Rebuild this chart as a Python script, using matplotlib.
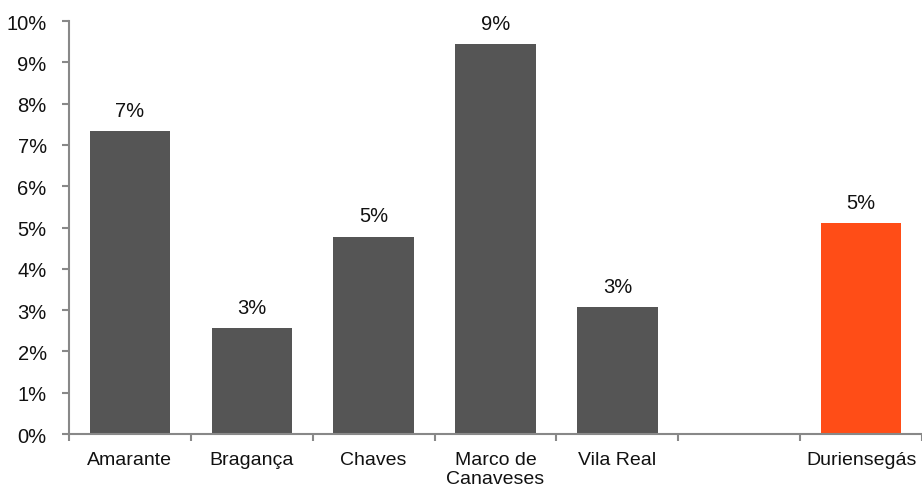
import matplotlib.pyplot as plt
from matplotlib.ticker import FuncFormatter

plt.rcParams["font.family"] = ["Liberation Sans", "DejaVu Sans"]

# Data
categories = ["Amarante", "Bragança", "Chaves", "Marco de\nCanaveses", "Vila Real", "", "Duriensegás"]
values = [7.33, 2.57, 4.78, 9.44, 3.08, None, 5.10]
colors = ["#555555", "#555555", "#555555", "#555555", "#555555", "#555555", "#FF4D17"]
y_ticks = list(range(0, 11))

fig = plt.figure(figsize=(9.22, 4.89), dpi=100)
ax = fig.add_axes([0.0748, 0.1104, 0.9252, 0.8446])

xs = list(range(len(categories)))
for x, v, c in zip(xs, values, colors):
    if v is None:
        continue
    ax.bar(x, v, width=0.66, color=c)
    ax.text(x, v + 0.27, f"{round(v)}%", ha="center", va="bottom",
            fontsize=14.5, color="#111111")

ax.set_xlim(-0.5, len(categories) - 0.5)
ax.set_ylim(0, 10)
ax.set_yticks(y_ticks)
ax.yaxis.set_major_formatter(FuncFormatter(lambda v, p: f"{int(v)}%"))

ax.set_xticks(xs)
ax.set_xticklabels(categories, linespacing=1.2)
ax.set_xticks([x - 0.5 for x in xs] + [len(xs) - 0.5], minor=True)
ax.tick_params(axis="x", which="major", length=0, pad=12, labelsize=14, colors="#111111")
ax.tick_params(axis="x", which="minor", length=5, color="#888888", width=1.5)
ax.tick_params(axis="y", length=5, color="#888888", width=1.5, pad=11,
               labelsize=14.5, labelcolor="#111111")

for side in ["top", "right"]:
    ax.spines[side].set_visible(False)
for side in ["left", "bottom"]:
    ax.spines[side].set_color("#888888")
    ax.spines[side].set_linewidth(1.5)

fig.savefig("out.png", dpi=100)
